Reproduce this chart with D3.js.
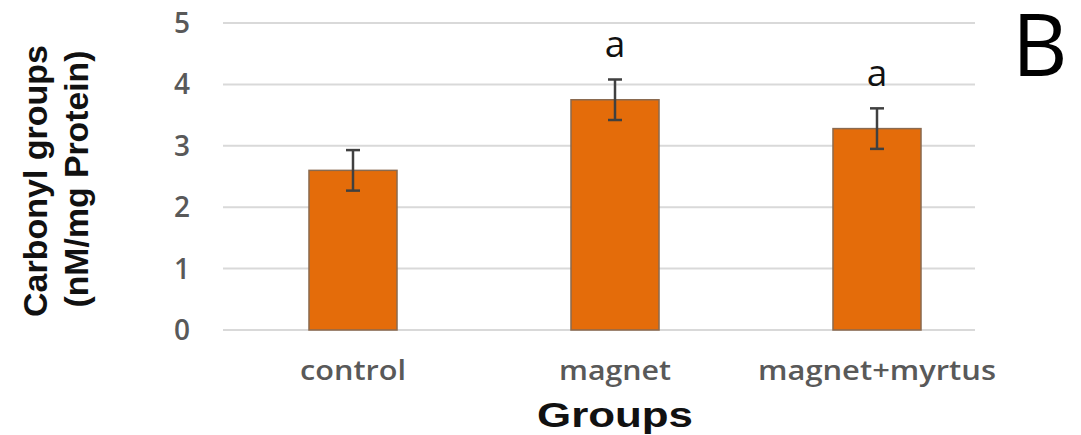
<!DOCTYPE html>
<html><head><meta charset="utf-8">
<script src="https://cdn.jsdelivr.net/npm/d3@7"></script>
<style>html,body{margin:0;padding:0;background:#fff;}svg{display:block;}</style>
</head><body>
<svg id="chart" width="1081" height="435"></svg>
<script>
const categories = ["control", "magnet", "magnet+myrtus"];
const means = [2.60, 3.75, 3.28];
const errors = [0.33, 0.33, 0.33];
const sigLabels = ["", "a", "a"];
const yTicks = [0, 1, 2, 3, 4, 5];

const svg = d3.select("#chart");
const plotLeft = 223, plotRight = 975, plotTop = 23, plotBottom = 330;

const y = d3.scaleLinear().domain([0, 5]).range([plotBottom, plotTop]);
const x = d3.scaleBand().domain(categories).range([222, 1008]).padding(0);
const barW = x.step() * 0.336;

// gridlines
svg.append("g").selectAll("line").data(yTicks).join("line")
  .attr("x1", plotLeft).attr("x2", plotRight)
  .attr("y1", d => y(d)).attr("y2", d => y(d))
  .attr("stroke", "#d9d9d9").attr("stroke-width", 2);

// y axis labels
const yAxis = d3.axisLeft(y).tickValues(yTicks).tickFormat(d3.format("d")).tickSize(0).tickPadding(0);
const gy = svg.append("g").attr("transform", "translate(190,0)").call(yAxis);
gy.select(".domain").remove();
gy.selectAll("text")
  .attr("font-family", "'Open Sans', sans-serif")
  .attr("font-size", 28).attr("font-weight", 600)
  .attr("fill", "#595959").attr("dy", "0.34em");

// bars
svg.append("g").selectAll("rect").data(categories).join("rect")
  .attr("x", d => x(d) + x.bandwidth() / 2 - barW / 2)
  .attr("width", barW)
  .attr("y", (d, i) => y(means[i]))
  .attr("height", (d, i) => y(0) - y(means[i]))
  .attr("fill", "#E46C0A")
  .attr("stroke", "#8a6a50").attr("stroke-width", 1.5);

// error bars
const eg = svg.append("g").attr("stroke", "#404040").attr("stroke-width", 2.5);
categories.forEach((c, i) => {
  const cx = x(c) + x.bandwidth() / 2;
  const t = y(means[i] + errors[i]), b = y(means[i] - errors[i]);
  eg.append("line").attr("x1", cx).attr("x2", cx).attr("y1", t).attr("y2", b);
  eg.append("line").attr("x1", cx - 7).attr("x2", cx + 7).attr("y1", t).attr("y2", t);
  eg.append("line").attr("x1", cx - 7).attr("x2", cx + 7).attr("y1", b).attr("y2", b);
});

// significance letters
svg.append("g").selectAll("text").data(categories).join("text")
  .attr("x", d => x(d) + x.bandwidth() / 2)
  .attr("y", (d, i) => y(means[i] + errors[i]) - 22)
  .attr("text-anchor", "middle")
  .attr("font-family", "'Open Sans', sans-serif")
  .attr("font-size", 37)
  .attr("fill", "#111")
  .text((d, i) => sigLabels[i]);

// x category labels
const xAxis = d3.axisBottom(x).tickSize(0).tickPadding(0);
const gx = svg.append("g").attr("transform", "translate(0,380)").call(xAxis);
gx.select(".domain").remove();
const labelWidths = {"control": 106, "magnet": 112, "magnet+myrtus": 238};
gx.selectAll("text")
  .attr("y", 0).attr("dy", 0)
  .attr("font-family", "'Open Sans', sans-serif")
  .attr("font-size", 27).attr("font-weight", 600)
  .attr("fill", "#595959")
  .attr("textLength", d => labelWidths[d])
  .attr("lengthAdjust", "spacingAndGlyphs");

// x axis title
svg.append("text")
  .attr("x", 615).attr("y", 427)
  .attr("text-anchor", "middle")
  .attr("font-family", "'Liberation Sans', Arial, sans-serif")
  .attr("font-size", 35).attr("font-weight", "bold")
  .attr("fill", "#111")
  .attr("textLength", 156).attr("lengthAdjust", "spacingAndGlyphs")
  .text("Groups");

// y axis title (two lines)
const yt = svg.append("g").attr("font-family", "'Liberation Sans', Arial, sans-serif")
  .attr("font-size", 33).attr("font-weight", "bold").attr("fill", "#111")
  .attr("text-anchor", "middle");
yt.append("text").attr("transform", "translate(47,181) rotate(-90)")
  .attr("textLength", 272).attr("lengthAdjust", "spacingAndGlyphs")
  .text("Carbonyl groups");
yt.append("text").attr("transform", "translate(88,179) rotate(-90)")
  .attr("textLength", 257).attr("lengthAdjust", "spacingAndGlyphs")
  .text("(nM/mg Protein)");

// panel letter
svg.append("text")
  .attr("x", 1012).attr("y", 76)
  .attr("font-family", "'Open Sans', sans-serif")
  .attr("font-size", 86)
  .attr("fill", "#000")
  .text("B");
</script>
</body></html>
